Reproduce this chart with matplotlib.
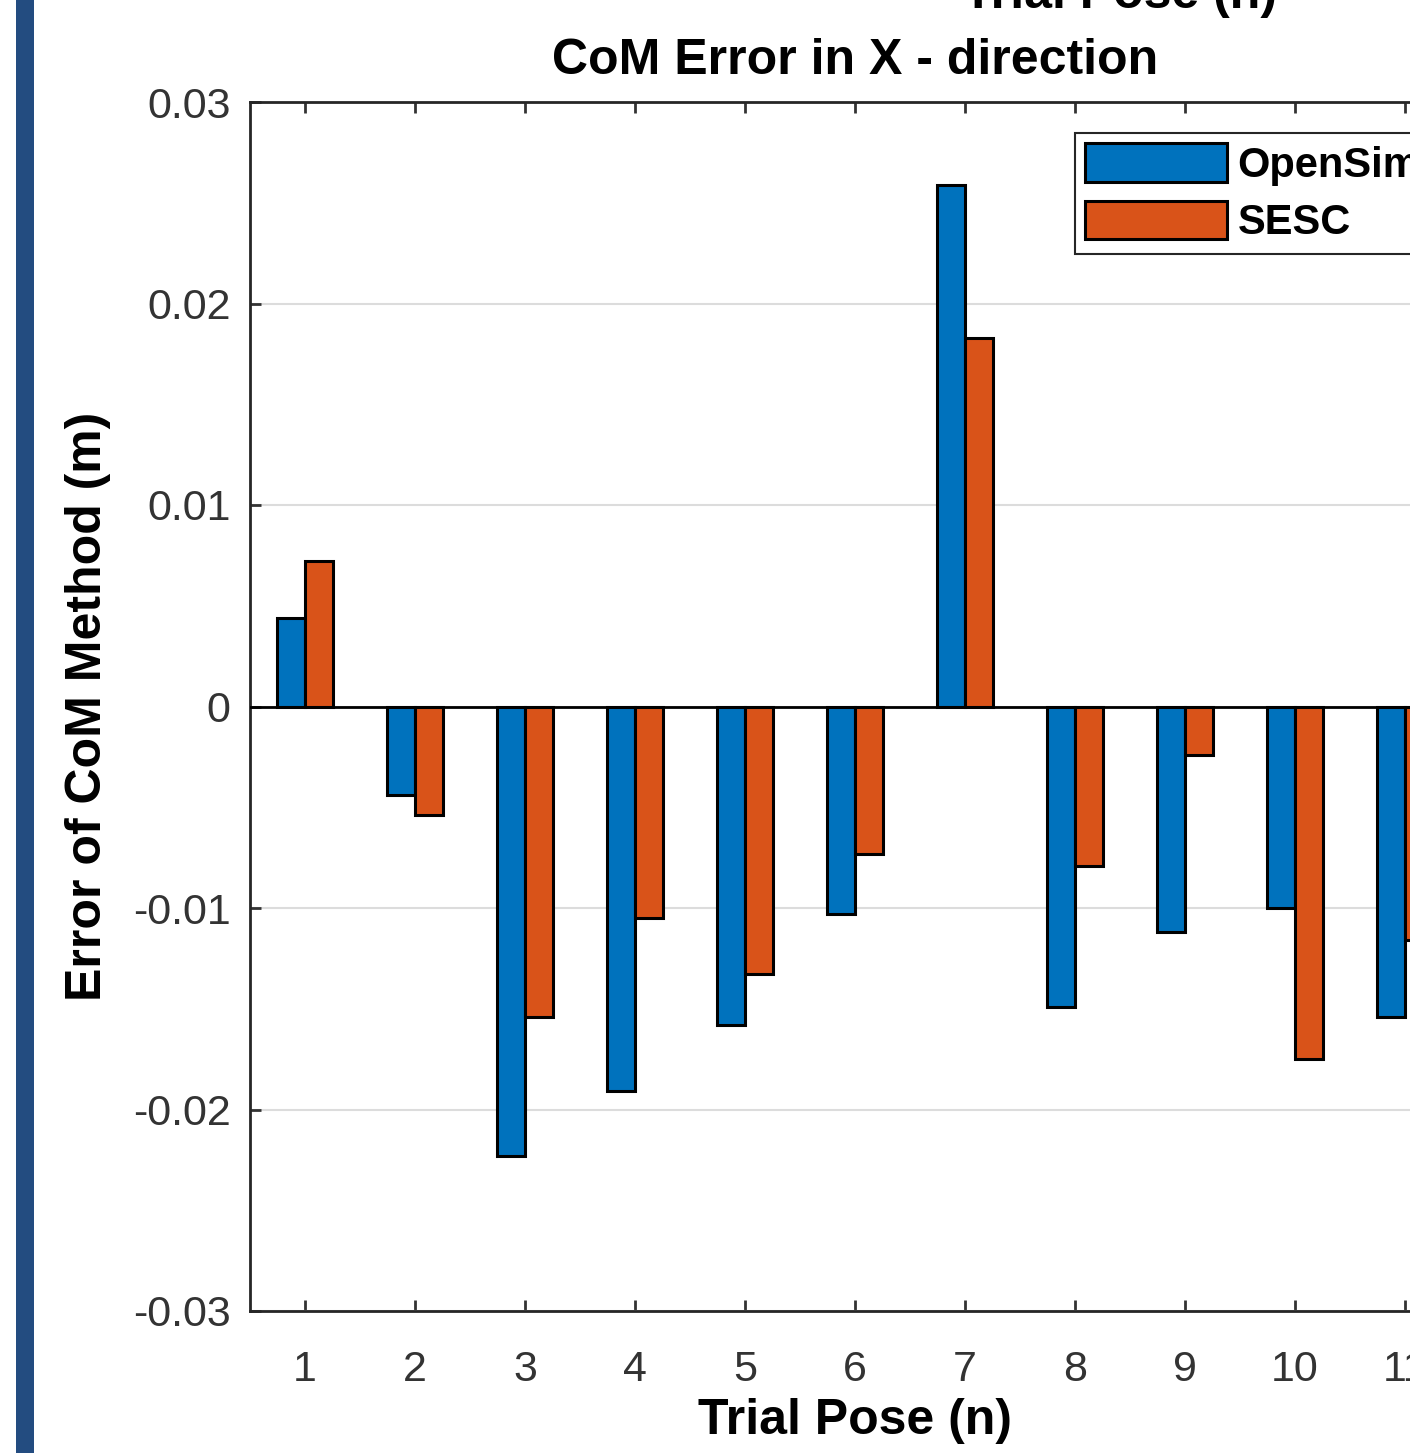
import matplotlib
matplotlib.use('Agg')
import matplotlib.pyplot as plt
import numpy as np
from matplotlib.patches import Rectangle

# --- data ---
poses = [1, 2, 3, 4, 5, 6, 7, 8, 9, 10, 11]
opensim_err = [0.0044, -0.0044, -0.0223, -0.0191, -0.0158, -0.0103, 0.0259, -0.0149, -0.0112, -0.0100, -0.0154]
sesc_err = [0.0072, -0.0054, -0.0154, -0.0105, -0.0133, -0.0073, 0.0183, -0.0079, -0.0024, -0.0175, -0.0116]
series_names = ['OpenSim', 'SESC']
y_ticks = [-0.03, -0.02, -0.01, 0, 0.01, 0.02, 0.03]
y_tick_labels = ['-0.03', '-0.02', '-0.01', '0', '0.01', '0.02', '0.03']

plt.rcParams['font.family'] = ['Liberation Sans', 'DejaVu Sans']

W, H = 1410, 1453
fig = plt.figure(figsize=(W / 100, H / 100), dpi=100)
fig.patch.set_facecolor('white')

# blue strip on the left of the screenshot
fig.patches.append(Rectangle((16 / W, 0), 18 / W, 1, transform=fig.transFigure,
                             facecolor='#234c80', edgecolor='none', zorder=0))

# axes runs past the right edge (the screenshot is cropped)
ax_l, ax_r, ax_t, ax_b = 250, 1460, 102, 1311
ax = fig.add_axes([ax_l / W, 1 - ax_b / H, (ax_r - ax_l) / W, (ax_b - ax_t) / H])

x = np.array(poses)
bw = 0.255
ax.bar(x - bw / 2, opensim_err, bw, color='#0072BD', edgecolor='black', linewidth=2.2,
       label=series_names[0], zorder=3)
ax.bar(x + bw / 2, sesc_err, bw, color='#D95319', edgecolor='black', linewidth=2.2,
       label=series_names[1], zorder=3)
ax.axhline(0, color='black', linewidth=2, zorder=4)

ax.set_xlim(0.5, 11.5)
ax.set_ylim(-0.03, 0.03)
ax.set_xticks(poses)
ax.set_xticklabels([str(p) for p in poses])
ax.set_yticks(y_ticks)
ax.set_yticklabels(y_tick_labels)

ax.yaxis.grid(True, color='#dcdcdc', linewidth=1.5, zorder=0)
ax.set_axisbelow(True)
for s in ax.spines.values():
    s.set_linewidth(2)
    s.set_color('#262626')
ax.tick_params(direction='in', length=8, width=2, top=True, right=True,
               labelsize=31, colors='#333333', pad=14)
ax.tick_params(axis='x', pad=28)

ax.set_title('CoM Error in X - direction', fontsize=36, fontweight='bold', pad=20)
ax.set_xlabel('Trial Pose (n)', fontsize=36, fontweight='bold', labelpad=6)
ax.set_ylabel('Error of CoM Method (m)', fontsize=36, fontweight='bold', labelpad=16)

leg = ax.legend(loc='upper left', bbox_to_anchor=((1075 - ax_l) / (ax_r - ax_l), (ax_b - 133) / (ax_b - ax_t)),
                borderaxespad=0, fancybox=False, framealpha=1, edgecolor='#262626',
                prop={'size': 30, 'weight': 'bold'}, handlelength=3.4, handleheight=1.05,
                handletextpad=0.25, borderpad=0.25, labelspacing=0.35)
leg.get_frame().set_linewidth(1.5)

# cut-off x-label of the subplot above
fig.text(1120 / W, 1 - 8 / H, 'Trial Pose (n)', fontsize=36, fontweight='bold',
         ha='center', va='baseline')

fig.savefig('out.png', dpi=100)
